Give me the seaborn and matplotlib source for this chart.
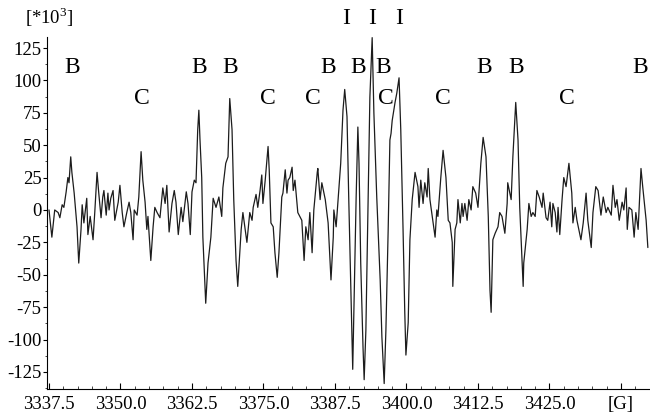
import matplotlib
matplotlib.use("Agg")
import matplotlib.pyplot as plt
import seaborn as sns
import pandas as pd
from matplotlib.ticker import MultipleLocator

field_G = [
    3337.5, 3338.0, 3338.5, 3339.1, 3339.4, 3339.8, 3340.1, 3340.5, 3340.8, 3341.0,
    3341.3, 3341.5, 3341.9, 3342.4, 3342.7, 3343.1, 3343.3, 3343.6, 3344.1, 3344.3,
    3344.7, 3345.2, 3345.5, 3345.9, 3346.2, 3346.6, 3346.9, 3347.1, 3347.5, 3347.8,
    3348.0, 3348.3, 3348.7, 3349.0, 3349.6, 3349.9, 3350.3, 3350.6, 3351.1, 3351.5,
    3351.8, 3352.2, 3352.4, 3352.9, 3353.2, 3353.6, 3353.9, 3354.3, 3354.6, 3354.8,
    3355.3, 3355.7, 3356.0, 3356.4, 3356.9, 3357.4, 3357.8, 3358.1, 3358.5, 3359.0,
    3359.4, 3359.7, 3360.1, 3360.6, 3360.9, 3361.5, 3361.8, 3362.2, 3362.5, 3362.9,
    3363.2, 3363.5, 3363.7, 3363.9, 3364.2, 3364.4, 3364.9, 3365.3, 3365.8, 3366.2,
    3366.7, 3367.2, 3367.7, 3367.9, 3368.4, 3368.8, 3369.1, 3369.5, 3369.8, 3370.2,
    3370.5, 3371.1, 3371.4, 3372.1, 3372.6, 3373.0, 3373.2, 3373.7, 3374.0, 3374.4,
    3374.7, 3374.9, 3375.3, 3375.8, 3376.0, 3376.3, 3376.7, 3377.0, 3377.4, 3377.7,
    3378.2, 3378.4, 3378.8, 3379.1, 3379.3, 3379.6, 3380.0, 3380.2, 3380.5, 3381.0,
    3381.7, 3382.1, 3382.4, 3382.8, 3383.1, 3383.5, 3383.8, 3384.4, 3384.5, 3384.9,
    3385.2, 3385.8, 3386.3, 3386.8, 3387.2, 3387.3, 3387.7, 3388.0, 3388.5, 3388.9,
    3389.2, 3389.6, 3389.9, 3390.3, 3390.6, 3390.8, 3391.2, 3391.5, 3391.7, 3392.0,
    3392.4, 3392.6, 3392.9, 3393.3, 3393.6, 3394.0, 3394.3, 3394.8, 3395.4, 3395.7,
    3396.1, 3396.4, 3396.8, 3397.1, 3397.3, 3397.5, 3398.0, 3398.3, 3398.7, 3399.0,
    3399.4, 3399.7, 3399.9, 3400.3, 3400.6, 3401.0, 3401.5, 3402.0, 3402.2, 3402.5,
    3402.9, 3403.2, 3403.6, 3403.8, 3404.1, 3404.5, 3405.0, 3405.3, 3405.5, 3406.0,
    3406.4, 3406.9, 3407.3, 3407.6, 3408.0, 3408.1, 3408.5, 3408.8, 3409.0, 3409.4,
    3409.7, 3409.9, 3410.2, 3410.6, 3410.9, 3411.3, 3411.6, 3412.1, 3412.5, 3413.0,
    3413.4, 3413.9, 3414.3, 3414.6, 3414.8, 3415.1, 3415.5, 3416.0, 3416.3, 3416.7,
    3417.2, 3417.6, 3417.7, 3418.3, 3418.6, 3419.1, 3419.5, 3419.8, 3420.4, 3420.5,
    3421.1, 3421.4, 3421.8, 3422.1, 3422.5, 3422.8, 3423.2, 3423.7, 3423.9, 3424.4,
    3424.7, 3425.1, 3425.4, 3425.6, 3426.0, 3426.3, 3426.5, 3426.8, 3427.2, 3427.5,
    3427.9, 3428.4, 3428.9, 3429.1, 3429.5, 3429.8, 3430.5, 3430.9, 3431.4, 3431.7,
    3432.3, 3432.6, 3433.1, 3433.5, 3434.0, 3434.4, 3434.9, 3435.2, 3435.8, 3436.1,
    3436.5, 3436.8, 3437.2, 3437.7, 3438.0, 3438.4, 3438.6, 3438.9, 3439.4, 3439.8,
    3440.1, 3440.5, 3441.0, 3441.3, 3441.9, 3442.2,
]

intensity_k = [
    0, -21, 0, -2, -6, 4, 2, 14, 25, 21,
    41, 29, 13, -13, -41, -15, 4, -10, 9, -19,
    -5, -23, -2, 29, 13, -6, 10, 15, -4, 13,
    0, 9, 15, -8, 6, 19, -2, -13, -2, 6,
    -2, -23, 0, -4, 10, 45, 23, 6, -15, -5,
    -39, -13, 2, -2, -6, 17, 5, 19, -17, 5,
    15, 6, -19, 2, -9, 14, 5, -19, 14, 23,
    21, 62, 77, 54, 25, -21, -72, -41, -21, 9,
    2, 10, -5, 17, 36, 41, 86, 62, 8, -39,
    -59, -15, -2, -25, -2, -8, 2, 12, 2, 15,
    27, 5, 23, 49, 31, -10, -13, -33, -52, -33,
    10, 13, 31, 13, 23, 25, 33, 15, 23, -2,
    -8, -39, -13, -23, -2, -33, 0, 29, 32, 8,
    21, 8, -10, -54, -21, 0, -13, 5, 36, 77,
    93, 72, 10, -67, -123, -79, 10, 64, 36, -41,
    -106, -131, -93, 10, 87, 133, 75, 10, -54, -98,
    -134, -93, -15, 54, 59, 69, 83, 90, 102, 62,
    -15, -79, -112, -87, -23, 8, 29, 18, 2, 23,
    5, 21, 10, 32, 8, -5, -21, 0, -5, 25,
    46, 25, -8, -10, -25, -59, -15, -10, 8, -10,
    5, -5, 5, -8, 8, 0, 18, 13, 2, 36,
    56, 41, -5, -62, -79, -23, -18, -13, -2, -5,
    -18, 5, 21, 8, 41, 83, 54, 2, -59, -41,
    -15, 5, -5, -2, -5, 15, 10, 2, 13, -6,
    -8, 6, -13, 5, -2, -17, 2, -19, 8, 25,
    18, 36, 13, -10, 2, -8, -23, -10, 13, -8,
    -29, -2, 18, 15, -4, 10, -2, 2, -4, 19,
    2, 8, -8, 6, 0, 17, -15, 2, 0, -21,
    -2, -15, 32, 18, -8, -29,
]

x_tick_values = [3337.5, 3350.0, 3362.5, 3375.0, 3387.5, 3400.0, 3412.5, 3425.0, 3437.5]
x_tick_labels = ["3337.5", "3350.0", "3362.5", "3375.0", "3387.5", "3400.0", "3412.5", "3425.0", "[G]"]
y_tick_values = [125, 100, 75, 50, 25, 0, -25, -50, -75, -100, -125]

label_text = ["B", "C", "B", "B", "C", "C", "B", "B", "B", "C", "I", "I", "I",
              "C", "B", "B", "C", "B"]
label_field = [3341.5, 3353.8, 3363.7, 3369.1, 3375.8, 3383.7, 3386.3, 3391.5, 3395.9,
               3396.4, 3389.4, 3394.0, 3398.7, 3406.4, 3413.5, 3419.1, 3428.1, 3440.8]
label_level = [110, 86, 110, 110, 86, 86, 110, 110, 110,
               86, 148, 148, 148, 86, 110, 110, 86, 110]

sns.set_style("ticks")
plt.rcParams["font.family"] = ["Liberation Serif", "DejaVu Serif"]
plt.rcParams["mathtext.fontset"] = "custom"
plt.rcParams["mathtext.rm"] = "Liberation Serif"

df = pd.DataFrame({"field": field_G, "intensity": intensity_k})

fig = plt.figure(figsize=(6.5, 4.15), dpi=100)
ax = fig.add_axes([47 / 650, 26 / 415, 602 / 650, 352 / 415])

sns.lineplot(data=df, x="field", y="intensity", ax=ax, color="#1c1c1c",
             linewidth=0.9, estimator=None, sort=False)

ax.set_xlim(3337.15, 3442.4)
ax.set_ylim(-138.2, 133.5)
ax.set_xticks(x_tick_values)
ax.set_xticklabels(x_tick_labels)
ax.set_yticks(y_tick_values)
ax.set_yticklabels([str(v) for v in y_tick_values])
ax.xaxis.set_minor_locator(MultipleLocator(2.5))
ax.yaxis.set_minor_locator(MultipleLocator(12.5))
ax.tick_params(axis="both", which="major", labelsize=13.5, colors="black", width=0.8)
ax.tick_params(axis="x", which="major", direction="in", length=4, pad=5)
ax.tick_params(axis="x", which="minor", direction="in", length=2.5, width=0.6)
ax.tick_params(axis="y", which="major", direction="out", length=3, pad=1)
ax.tick_params(axis="y", which="minor", direction="out", length=1.5, width=0.6)
ax.set_xlabel("")
ax.set_ylabel("")
for side in ["top", "right"]:
    ax.spines[side].set_visible(False)
for side in ["left", "bottom"]:
    ax.spines[side].set_linewidth(0.8)
    ax.spines[side].set_color("black")

for t, xf, yl in zip(label_text, label_field, label_level):
    ax.text(xf, yl, t, ha="center", va="center", fontsize=17, color="black", clip_on=False)

fig.text(25 / 650, 1 - 17 / 415, r"[*10$^{3}$]", ha="left", va="center", fontsize=13.5, color="black")

fig.savefig("out.png", dpi=100)
